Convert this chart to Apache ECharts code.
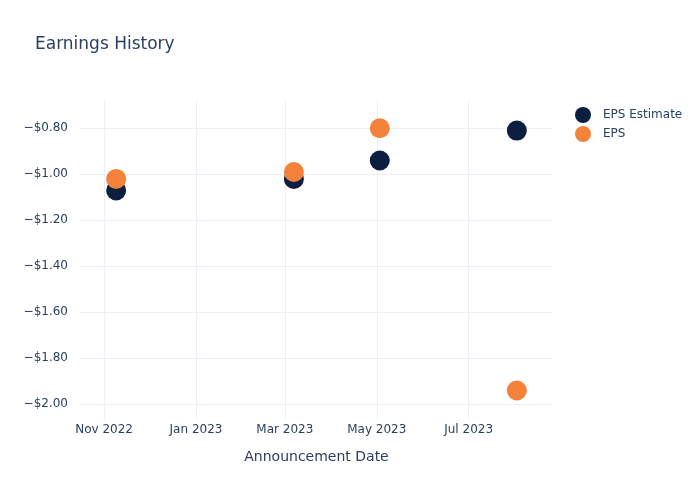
<!DOCTYPE html>
<html>
<head>
<meta charset="utf-8">
<script src="https://cdn.jsdelivr.net/npm/echarts@6/dist/echarts.min.js"></script>
<style>html,body{margin:0;padding:0;background:#fff}#c{width:700px;height:500px}</style>
</head>
<body>
<div id="c"></div>
<script>
const dates = ['2022-11-09', '2023-03-07', '2023-05-03', '2023-08-02'];
const epsEstimate = [-1.07, -1.02, -0.94, -0.81];
const eps = [-1.02, -0.99, -0.80, -1.94];
const xTickDates = ['2022-11-01', '2023-01-01', '2023-03-01', '2023-05-01', '2023-07-01'];
const xTickLabels = ['Nov 2022', 'Jan 2023', 'Mar 2023', 'May 2023', 'Jul 2023'];
const yTicks = [-2.0, -1.8, -1.6, -1.4, -1.2, -1.0, -0.8];

const ts = d => new Date(d + 'T00:00:00Z').getTime();
const xTickTs = xTickDates.map(ts);
const labelFor = v => {
  let best = '', bd = Infinity;
  xTickTs.forEach((t, i) => { const d = Math.abs(t - v); if (d < bd) { bd = d; best = xTickLabels[i]; } });
  return bd < 86400000 ? best : '';
};

const txt = '#2a3f5f';
const font = 'DejaVu Sans';
const fmtY = v => '\u2212$' + Math.abs(v).toFixed(2);

const chart = echarts.init(document.getElementById('c'));
chart.setOption({
  backgroundColor: '#fff',
  textStyle: { fontFamily: font },
  title: {
    text: 'Earnings History', left: 30, top: 31,
    textStyle: { fontFamily: font, fontSize: 17, fontWeight: 'normal', color: txt }
  },
  legend: {
    orient: 'vertical', left: 570, top: 102, itemGap: 3,
    icon: 'circle', itemWidth: 16, itemHeight: 16,
    textStyle: { fontFamily: font, fontSize: 12, color: txt, padding: [0, 0, 0, 7] },
    data: ['EPS Estimate', 'EPS']
  },
  grid: { left: 80, right: 147, top: 100, bottom: 80 },
  xAxis: {
    type: 'value',
    min: ts('2022-10-16'), max: ts('2023-08-26'),
    name: 'Announcement Date', nameLocation: 'middle', nameGap: 30,
    nameTextStyle: { fontFamily: font, fontSize: 14, color: txt },
    axisLine: { show: false },
    axisTick: { show: false, customValues: xTickTs },
    axisLabel: {
      customValues: xTickTs, color: txt, fontFamily: font, fontSize: 12, margin: 4,
      formatter: v => labelFor(v)
    },
    splitLine: { show: true, lineStyle: { color: '#ebf0f8', width: 1 } }
  },
  yAxis: {
    type: 'value', min: -2.068, max: -0.677,
    axisLine: { show: false },
    axisTick: { show: false, customValues: yTicks },
    axisLabel: {
      customValues: yTicks, color: txt, fontFamily: font, fontSize: 12, margin: 12,
      formatter: v => fmtY(v)
    },
    splitLine: { show: true, lineStyle: { color: '#ebf0f8', width: 1 } }
  },
  series: [
    {
      name: 'EPS Estimate', type: 'scatter', symbolSize: 20,
      itemStyle: { color: '#0c1f40', opacity: 1 },
      data: dates.map((d, i) => [ts(d), epsEstimate[i]])
    },
    {
      name: 'EPS', type: 'scatter', symbolSize: 20,
      itemStyle: { color: '#f5823a', opacity: 1 },
      data: dates.map((d, i) => [ts(d), eps[i]])
    }
  ]
});
</script>
</body>
</html>
